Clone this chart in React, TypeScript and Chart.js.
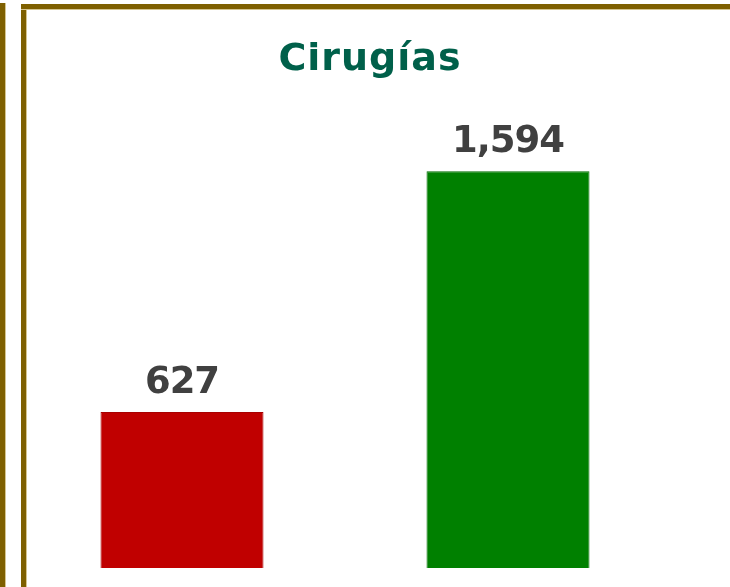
import React, { useEffect, useRef } from "react";
import { Chart, registerables } from "chart.js";

Chart.register(...registerables);

const categories = ["Antes", "Después"];
const values = [627, 1594];
const valueLabels = ["627", "1,594"];
const barColors = ["#c00000", "#008000"];
const barBorders = ["#a80000", "#006c00"];
const titleText = "Cirugías";

export default function App() {
  const ref = useRef<HTMLCanvasElement | null>(null);

  useEffect(() => {
    document.body.style.margin = "0";
    const canvas = ref.current;
    if (!canvas) return;

    const labelsPlugin = {
      id: "valueLabels",
      afterDatasetsDraw(chart: any) {
        const ctx = chart.ctx;
        const meta = chart.getDatasetMeta(0);
        ctx.save();
        ctx.fillStyle = "#404040";
        ctx.font = "bold 37px 'DejaVu Sans'";
        (ctx as any).letterSpacing = "-1px";
        ctx.textAlign = "center";
        ctx.textBaseline = "alphabetic";
        meta.data.forEach((el: any, i: number) => {
          ctx.fillText(valueLabels[i], el.x, el.y - 19);
        });
        ctx.fillStyle = "#00604a";
        ctx.font = "bold 38px 'DejaVu Sans'";
        (ctx as any).letterSpacing = "1px";
        ctx.fillText(titleText, 370, 70);
        ctx.restore();
      },
    };

    const chart = new Chart(canvas, {
      type: "bar",
      data: {
        labels: categories,
        datasets: [
          {
            data: values,
            backgroundColor: barColors,
            borderColor: barBorders,
            borderWidth: 1,
            barPercentage: 0.5,
            categoryPercentage: 1,
          },
        ],
      },
      options: {
        animation: false,
        responsive: false,
        maintainAspectRatio: false,
        devicePixelRatio: 1,
        layout: { padding: { left: 19, right: 59, top: 120, bottom: 19 } },
        plugins: {
          legend: { display: false },
          tooltip: { enabled: false },
          title: { display: false },
        },
        scales: {
          x: { display: false, grid: { display: false } },
          y: { display: false, min: 0, max: 1800, grid: { display: false } },
        },
      },
      plugins: [labelsPlugin],
    });
    return () => chart.destroy();
  }, []);

  const gold = "#7f6000";
  const light = "#d6c690";

  return (
    <div
      style={{
        position: "fixed",
        left: 0,
        top: 0,
        width: 730,
        height: 587,
        background: "#ffffff",
        overflow: "hidden",
      }}
    >
      <div style={{ position: "absolute", left: 0, top: 3, width: 5, height: 584, background: gold, boxShadow: `1px 0 0 ${light}` }} />
      <div style={{ position: "absolute", left: 21, top: 4, width: 5, height: 583, background: gold, boxShadow: `1px 0 0 ${light}` }} />
      <div style={{ position: "absolute", left: 21, top: 4, width: 709, height: 5, background: gold, boxShadow: `0 1px 0 ${light}` }} />
      <canvas
        ref={ref}
        width={730}
        height={587}
        style={{ position: "absolute", left: 0, top: 0, width: 730, height: 587 }}
      />
    </div>
  );
}
